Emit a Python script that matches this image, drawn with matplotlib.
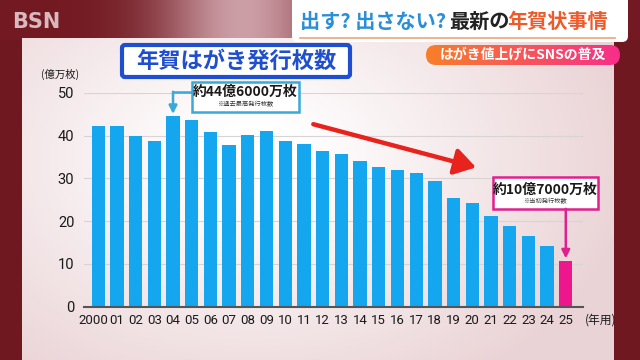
import numpy as np
import matplotlib
matplotlib.use('Agg')
import matplotlib.pyplot as plt
import matplotlib.transforms as mtransforms
from matplotlib.patches import Rectangle, FancyBboxPatch

plt.rcParams['font.family'] = ['Noto Sans CJK JP', 'DejaVu Sans']

# data, unit: 億万枚 (100 million)
years = ['2000', '01', '02', '03', '04', '05', '06', '07', '08', '09',
         '10', '11', '12', '13', '14', '15', '16', '17', '18', '19',
         '20', '21', '22', '23', '24', '25']
issued = [42.3, 42.2, 40.0, 38.8, 44.6, 43.6, 40.8, 37.9, 40.1, 41.1,
          38.8, 38.0, 36.5, 35.7, 34.0, 32.8, 31.9, 31.2, 29.5, 25.4,
          24.2, 21.2, 18.9, 16.6, 14.2, 10.7]
yticks = [0, 10, 20, 30, 40, 50]

blue = '#14a6ee'
pink = '#ee168c'

fig = plt.figure(figsize=(6.4, 3.6), dpi=100)
fig.patch.set_facecolor('#6f1820')

# background layer in pixel coords
bg = fig.add_axes([0, 0, 1, 1])
bg.set_xlim(0, 640)
bg.set_ylim(360, 0)
bg.axis('off')

# top blurred strip
gx = np.linspace(0, 1, 640)
top = np.zeros((40, 640, 3))
glow = np.exp(-((gx - 0.38) / 0.13) ** 2)
for k, (a, b) in enumerate(zip((0.45, 0.10, 0.13), (0.80, 0.62, 0.65))):
    top[:, :, k] = a + (b - a) * glow
bg.imshow(top, extent=(0, 640, 40, 0), aspect='auto', zorder=0)

# light panel with white glow
yy, xx = np.mgrid[0:330, 0:592]
d = np.sqrt(((xx - 230) / 330.0) ** 2 + ((yy - 120) / 230.0) ** 2)
w = np.clip(1.15 - d, 0, 1)
panel = np.zeros((330, 592, 3))
edge = np.array([0.92, 0.83, 0.84])
for k in range(3):
    panel[:, :, k] = edge[k] + (1 - edge[k]) * w
bg.imshow(panel, extent=(22, 614, 368, 38), aspect='auto', zorder=1)

bg.text(12, 22, 'BSN', fontsize=15, fontweight='bold', color='#d9b9bd',
        va='center', ha='left', family='DejaVu Sans', zorder=3)

# headline banner
bg.add_patch(FancyBboxPatch((292, -10), 336, 52, boxstyle='round,pad=0,rounding_size=6',
                            fc='white', ec='none', zorder=3))
bg.plot([300, 615], [38, 38], color='#e9a77a', lw=1.2, zorder=4)
bg.text(300, 21, '出す? 出さない?', fontsize=14.5, fontweight='bold', color='#2b8fd8',
        va='center', ha='left', zorder=5)
bg.text(449, 21, '最新の', fontsize=14.5, fontweight='bold', color='#222222',
        va='center', ha='left', zorder=5)
bg.text(507, 21, '年賀状事情', fontsize=14.5, fontweight='bold', color='#ef5a2a',
        va='center', ha='left', zorder=5)

# pill with orange-pink gradient
pill = FancyBboxPatch((426, 45), 194, 20, boxstyle='round,pad=0,rounding_size=10',
                      fc='none', ec='none', zorder=3)
bg.add_patch(pill)
grad = np.zeros((1, 200, 3))
t = np.linspace(0, 1, 200)
grad[0, :, 0] = 0.97 + 0.0 * t
grad[0, :, 1] = 0.50 - 0.32 * t
grad[0, :, 2] = 0.16 + 0.38 * t
im = bg.imshow(grad, extent=(426, 620, 65, 45), aspect='auto', zorder=3)
im.set_clip_path(pill)
bg.text(523, 55, 'はがき値上げにSNSの普及', fontsize=10, fontweight='bold', color='white',
        va='center', ha='center', zorder=5)

# chart title box
bg.add_patch(FancyBboxPatch((122, 45), 228, 32, boxstyle='round,pad=0,rounding_size=3',
                            fc='white', ec='#1f4fd0', lw=3, zorder=3))
bg.text(236, 61, '年賀はがき発行枚数', fontsize=16, fontweight='bold', color='#1f4fd0',
        va='center', ha='center', zorder=5)

# chart
ax = fig.add_axes([84 / 640, 1 - 306.7 / 360, (583 - 84) / 640, (306.7 - 93) / 360])
ax.patch.set_alpha(0)
x = np.arange(len(years))
colors = [blue] * (len(years) - 1) + [pink]
ax.bar(x, issued, width=0.71, color=colors, zorder=3)
ax.set_xlim(-0.76, 25.92)
ax.set_ylim(0, 50)
ax.set_yticks(yticks)
ax.set_xticks(x)
ax.set_xticklabels(years)
ax.tick_params(axis='both', length=0, labelsize=10, colors='#1a1a1a')
ax.tick_params(axis='x', pad=5)
ax.tick_params(axis='y', pad=7)
ax.grid(axis='y', color='#d9d4d4', lw=0.8, zorder=0)
for s in ['top', 'right', 'left']:
    ax.spines[s].set_visible(False)
ax.spines['bottom'].set_color('#555555')
ax.spines['bottom'].set_linewidth(1.5)
ax.spines['bottom'].set_zorder(4)
for lab in ax.get_xticklabels():
    lab.set_fontsize(9.5)
    lab.set_family(['Roboto', 'DejaVu Sans'])
for lab in ax.get_yticklabels():
    lab.set_fontsize(10.5)
    lab.set_family(['Roboto', 'DejaVu Sans'])
# nudge the first (long) year label left so it clears "01"
first = ax.get_xticklabels()[0]
first.set_transform(first.get_transform() +
                    mtransforms.ScaledTranslation(-5 / 100, 0, fig.dpi_scale_trans))

ax.text(-0.048, 1.085, '(億万枚)', transform=ax.transAxes, fontsize=7.5,
        ha='center', va='center', color='#1a1a1a')
ax.text(1.003, -0.062, '(年用)', transform=ax.transAxes, fontsize=8.5,
        ha='left', va='center', color='#1a1a1a')

# peak annotation
ax.add_patch(Rectangle((5.0, 45.6), 5.75, 7.0, fc='white', ec='#38a9d8', lw=1.8,
                       clip_on=False, zorder=6))
ax.text(7.87, 50.2, '約44億6000万枚', fontsize=10, fontweight='bold', color='#1a1a1a',
        ha='center', va='center', zorder=7)
ax.text(7.87, 47.4, '※過去最高発行枚数', fontsize=4.5, color='#333333',
        ha='center', va='center', zorder=7)
ax.plot([4, 5.0], [50.2, 50.2], color='#38a9d8', lw=1.8, clip_on=False, zorder=6)
ax.annotate('', xy=(4, 45.1), xytext=(4, 50.3),
            arrowprops=dict(arrowstyle='-|>', color='#38a9d8', lw=1.8,
                            mutation_scale=12, shrinkA=0, shrinkB=0),
            annotation_clip=False, zorder=6)

# latest annotation
ax.add_patch(Rectangle((21.1, 22.9), 5.6, 7.4, fc='white', ec='#e0208f', lw=1.8,
                       clip_on=False, zorder=6))
ax.text(23.9, 27.4, '約10億7000万枚', fontsize=10, fontweight='bold', color='#1a1a1a',
        ha='center', va='center', zorder=7)
ax.text(23.9, 24.6, '※当初発行枚数', fontsize=4.5, color='#333333',
        ha='center', va='center', zorder=7)
ax.annotate('', xy=(25, 11.3), xytext=(25, 22.9),
            arrowprops=dict(arrowstyle='-|>', color='#e0208f', lw=1.8,
                            mutation_scale=12, shrinkA=0, shrinkB=0),
            annotation_clip=False, zorder=6)

# trend arrow
ax.annotate('', xy=(20.2, 32.6), xytext=(11.5, 42.7),
            arrowprops=dict(arrowstyle='-|>,head_width=0.5,head_length=0.8',
                            color='#e8231e', lw=3.2, mutation_scale=16,
                            shrinkA=0, shrinkB=0),
            annotation_clip=False, zorder=5)

fig.savefig('out.png', dpi=100, facecolor=fig.get_facecolor())
